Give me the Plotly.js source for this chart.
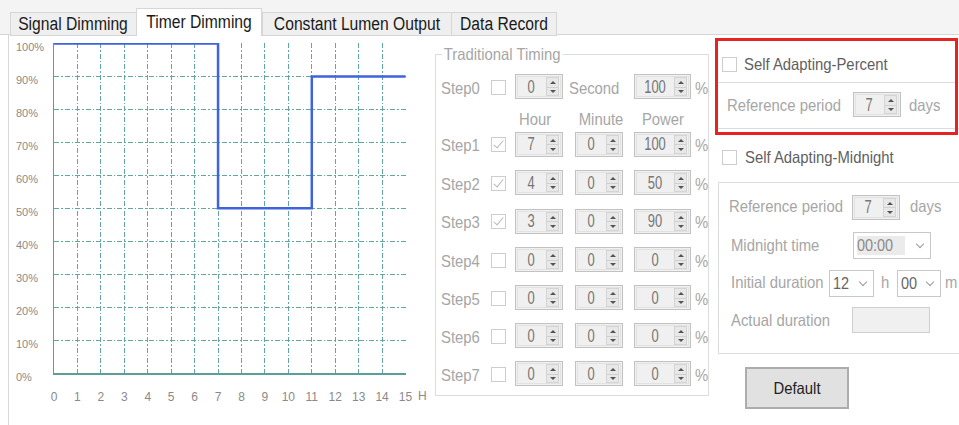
<!DOCTYPE html>
<html><head><meta charset="utf-8">
<script src="https://cdn.plot.ly/plotly-3.0.1.min.js"></script>
<style>
html,body{margin:0;padding:0;width:959px;height:425px;overflow:hidden;background:#fff;font-family:"Liberation Sans",Arial,sans-serif;}
#chart{position:absolute;left:0;top:0;width:959px;height:425px;z-index:0;}
.ui{position:absolute;z-index:2;box-sizing:border-box;}
.t{position:absolute;z-index:3;white-space:nowrap;font-size:16.5px;color:#a6a6a6;height:20px;line-height:20px;transform-origin:0 50%;}
</style></head><body>
<div id="chart"></div>
<div id="ui"></div>
<script>
// ---- chart data ----
const hourBreaks = [0, 7, 11, 15];
const powerLevels = [100, 50, 90, 90];
const hourTicks = [0,1,2,3,4,5,6,7,8,9,10,11,12,13,14,15];
const percentTicks = [0,10,20,30,40,50,60,70,80,90,100];

// ---- UI data ----
const tabNames = ['Signal Dimming','Timer Dimming','Constant Lumen Output','Data Record'];
const stepLabels = ['Step0','Step1','Step2','Step3','Step4','Step5','Step6','Step7'];
const stepEnabled = [false,true,true,true,false,false,false,false];
const stepHours = [0,7,4,3,0,0,0,0];
const stepMinutes = [0,0,0,0,0,0,0,0];
const stepPower = [100,100,50,90,0,0,0,0];

const GRID = '#62a6a0';
const AXIS = '#5b9f99';
const DASH = '5px,2px,1.5px,2px';
const XFONT = {size:12,color:'#8a8a8a',family:'Liberation Sans, Arial, sans-serif'};
const YFONT = {size:11,color:'#8a8a8a',family:'Liberation Sans, Arial, sans-serif'};

Plotly.newPlot('chart', [
  {x:hourBreaks, y:powerLevels, mode:'lines', line:{shape:'hv', color:'#3f62dd', width:2.5}, hoverinfo:'skip', showlegend:false},
  {x:hourBreaks, y:powerLevels, yaxis:'y2', mode:'lines', line:{width:0}, opacity:0, hoverinfo:'skip', showlegend:false}
], {
  width:959, height:425,
  margin:{l:0, r:553, t:43, b:52, pad:0},
  paper_bgcolor:'rgba(0,0,0,0)', plot_bgcolor:'rgba(0,0,0,0)',
  showlegend:false,
  xaxis:{domain:[54/406,1], range:[0,15.02], tickvals:hourTicks, ticktext:hourTicks.map(String),
    showgrid:true, gridcolor:GRID, griddash:DASH, gridwidth:1,
    showline:true, linecolor:AXIS, linewidth:1.5, zeroline:false, ticks:'', tickfont:XFONT,
    ticklabelstandoff:12, fixedrange:true},
  yaxis:{range:[0,100.15], tickvals:percentTicks, showticklabels:false,
    showgrid:true, gridcolor:GRID, griddash:DASH, gridwidth:1,
    showline:true, linecolor:AXIS, linewidth:1.5, zeroline:false, ticks:'', fixedrange:true},
  yaxis2:{overlaying:'y', anchor:'free', position:15/406, side:'right', range:[0,100.15],
    tickvals:percentTicks, ticktext:percentTicks.map(v=>v+'%'), ticklabelposition:'outside',
    showgrid:false, showline:false, zeroline:false, ticks:'', tickfont:YFONT, ticklabelshift:4, fixedrange:true},
  annotations:[{x:15, y:0, xref:'x', yref:'y', xshift:17, text:'H', showarrow:false, yshift:-23, font:XFONT}]
}, {staticPlot:true, displayModeBar:false});

// ---- UI drawing helpers ----
const ui = document.getElementById('ui');
function box(x,y,w,h,style,parent){
  const d=document.createElement('div'); d.className='ui';
  Object.assign(d.style,{left:x+'px',top:y+'px',width:w+'px',height:h+'px'},style||{});
  (parent||ui).appendChild(d); return d;
}
function text(str,x,yc,opts){
  opts=opts||{};
  const d=document.createElement('div'); d.className='t'; d.textContent=str;
  d.style.left=x+'px'; d.style.top=(yc-10)+'px';
  if(opts.size) d.style.fontSize=opts.size+'px';
  if(opts.color) d.style.color=opts.color;
  if(opts.weight) d.style.fontWeight=opts.weight;
  if(opts.bg) { d.style.background=opts.bg; d.style.padding='0 2px'; }
  const sx = opts.sx||0.9;
  d.style.transform = 'scaleX('+sx+')' + (opts.center ? ' translateX(-50%)' : '');
  ui.appendChild(d); return d;
}
function checkbox(x,y,checked){
  const b=box(x,y,15,15,{border:'1px solid #cdcdcd',background:'#fff'});
  if(checked){
    const m=document.createElement('div');
    Object.assign(m.style,{position:'absolute',left:'4px',top:'0px',width:'4px',height:'9px',
      borderRight:'1.5px solid #b9b9b9',borderBottom:'1.5px solid #b9b9b9',transform:'rotate(40deg)'});
    b.appendChild(m);
  }
}
function spin(x,yc,w,val){
  const h=25, y=yc-h/2;
  box(x,y,w,h,{border:'1px solid #c2c2c2',background:'#f0f0f0'});
  box(x+2,y+2,w-4,h-4,{border:'1px solid #e2e2e2'});
  text(String(val), x+(w-18)/2+1, yc, {center:true, size:18.5, sx:0.7, color:'#767676'});
  const sx=x+w-17;
  box(sx,y+3,13,h-6,{background:'#e8e8e8',border:'1px solid #d4d4d4'});
  box(sx+1,yc,11,1,{background:'#d0d0d0'});
  box(sx+3.5,y+7,0,0,{borderLeft:'3px solid transparent',borderRight:'3px solid transparent',borderBottom:'3px solid #555'});
  box(sx+3.5,yc+3.5,0,0,{borderLeft:'3px solid transparent',borderRight:'3px solid transparent',borderTop:'3px solid #555'});
}
function combo(x,y,w,h,val,color,hl){
  const b=box(x,y,w,h,{border:'1px solid #c8c8c8',background:'#fff'});
  if(hl) box(3,3,hl,h-8,{background:'#ebebeb'},b);
  text(val, x+4, y+h/2, {size:17, sx:0.85, color:color||'#8a8a8a'});
  const c=document.createElement('div');
  Object.assign(c.style,{position:'absolute',left:(w-15)+'px',top:(h/2-6)+'px',width:'5px',height:'5px',
    borderRight:'1px solid #9a9a9a',borderBottom:'1px solid #9a9a9a',transform:'rotate(45deg)'});
  b.appendChild(c);
}

// ---- tabs ----
box(0,0,959,35,{background:'#f4f4f4',borderBottom:'1px solid #d6d6d6'});
const tabEdges=[10,136,262,451,556];
tabNames.forEach((n,i)=>{
  const x0=tabEdges[i], w=tabEdges[i+1]-tabEdges[i];
  if(i===1){
    box(x0,8,w,28,{background:'#fff',border:'1px solid #d6d6d6',borderBottom:'none'});
    text(n, x0+w/2, 21.5, {center:true,size:18,sx:0.87,color:'#1a1a1a'});
  } else {
    box(x0,12,w+1,24,{background:'#efefef',border:'1px solid #d6d6d6'});
    text(n, x0+w/2, 24, {center:true,size:18,sx:0.87,color:'#1a1a1a'});
  }
});
box(8,35,1,390,{background:'#d9d9d9'});

// ---- traditional timing ----
box(435,54,274,342,{border:'1px solid #dcdcdc'});
text('Traditional Timing', 442, 54, {bg:'#fff'});
const rowY=[86.5,144,182.5,221,259.5,297.5,335.5,373.5];
stepLabels.forEach((s,i)=>{
  const yc=rowY[i];
  text(s, 441, yc+1);
  checkbox(491, yc-7, stepEnabled[i]);
  if(i===0){
    spin(515,yc,48,stepHours[i]);
    text('Second',569,yc+1);
    spin(634,yc,57,stepPower[i]);
  } else {
    spin(515,yc,48,stepHours[i]);
    spin(575,yc,48,stepMinutes[i]);
    spin(634,yc,57,stepPower[i]);
  }
  text('%',695,yc+1);
});
text('Hour',534.5,119,{center:true});
text('Minute',600.5,119,{center:true});
text('Power',662.5,119,{center:true});

// ---- self adapting ----
box(717,82,260,47,{border:'1px solid #dcdcdc'});
box(715,38,243,97,{border:'3px solid #e52421'});
checkbox(722,57,false);
text('Self Adapting-Percent',744,64,{color:'#5f5f5f'});
text('Reference period',727,105);
spin(853,104.5,48,7);
text('days',909,105);

checkbox(722,150,false);
text('Self Adapting-Midnight',745,157,{color:'#5f5f5f'});
box(718,182,260,172,{border:'1px solid #dcdcdc'});
text('Reference period',729,206);
spin(852,207,48,7);
text('days',910,206);
text('Midnight time',731,245);
combo(853,232,78,27,'00:00','#8a8a8a',48);
text('Initial duration',731,282);
combo(829,270,45,27,'12','#666');
text('h',881,282);
combo(897,270,44,27,'00','#666');
text('m',945,282);
text('Actual duration',731,320);
box(852,307,78,26,{background:'#f0f0f0',border:'1px solid #cfcfcf'});

box(745,367,104,42,{background:'#e1e1e1',border:'2px solid #adadad'});
text('Default',797,388,{center:true,color:'#222'});
</script>
</body></html>
